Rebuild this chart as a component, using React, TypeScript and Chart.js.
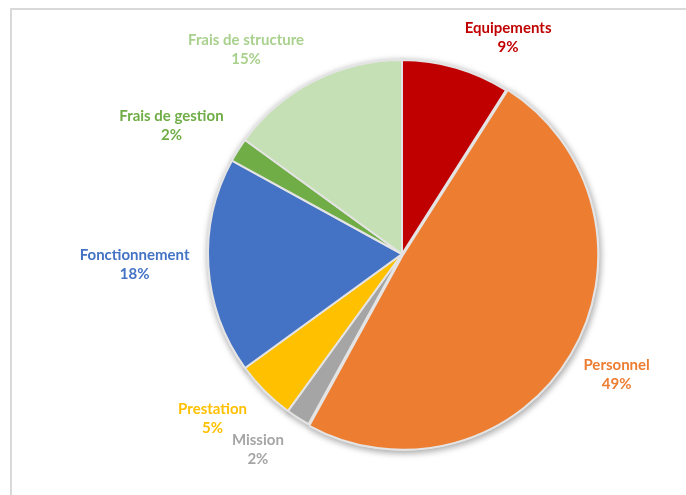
import React, { useEffect, useRef } from "react";
import { Chart, registerables } from "chart.js";

Chart.register(...registerables);

const categories = [
  "Equipements",
  "Personnel",
  "Mission",
  "Prestation",
  "Fonctionnement",
  "Frais de gestion",
  "Frais de structure",
];
const values = [9, 49, 2, 5, 18, 2, 15];
const sliceColors = ["#C00000", "#ED7D31", "#A5A5A5", "#FFC000", "#4472C4", "#70AD47", "#C5E0B4"];
const labelColors = ["#C00000", "#ED7D31", "#A5A5A5", "#FFC000", "#4472C4", "#70AD47", "#A9D18E"];
const explode = [0, 5, 0, 0, 0, 0, 0];
// Excel "best fit" nudges of the outside labels (px)
const labelNudge: [number, number][] = [
  [34, 8],
  [1, 2],
  [-15, -2],
  [-13, -1],
  [2, -4],
  [-5, -3],
  [-32, 4],
];

const FONT = "bold 15px Lato";
const LINE_H = 19;

const shadowPlugin = {
  id: "pieShadow",
  beforeDatasetsDraw(chart: any) {
    const ctx = chart.ctx;
    const meta = chart.getDatasetMeta(0);
    ctx.save();
    ctx.shadowColor = "rgba(0,0,0,0.35)";
    ctx.shadowBlur = 7;
    ctx.shadowOffsetX = 1;
    ctx.shadowOffsetY = 2;
    meta.data.forEach((el: any) => el.draw(ctx));
    ctx.restore();
  },
};

const labelPlugin = {
  id: "outsideLabels",
  afterDatasetsDraw(chart: any) {
    const ctx = chart.ctx;
    const meta = chart.getDatasetMeta(0);
    const total = values.reduce((a, b) => a + b, 0);
    ctx.save();
    ctx.font = FONT;
    ctx.textAlign = "center";
    ctx.textBaseline = "middle";
    meta.data.forEach((el: any, i: number) => {
      const { x, y, startAngle, endAngle, outerRadius } = el.getProps(
        ["x", "y", "startAngle", "endAngle", "outerRadius"],
        true
      );
      const mid = (startAngle + endAngle) / 2;
      const ux = Math.cos(mid);
      const uy = Math.sin(mid);
      const l1 = categories[i];
      const l2 = Math.round((values[i] / total) * 100) + "%";
      const w = Math.max(ctx.measureText(l1).width, ctx.measureText(l2).width);
      const h = LINE_H * 2;
      const r = outerRadius + 21;
      const cx = x + r * ux + (ux * w) / 2 + labelNudge[i][0];
      const cy = y + r * uy + (uy * h) / 2 + labelNudge[i][1];
      ctx.fillStyle = labelColors[i];
      ctx.fillText(l1, cx, cy - LINE_H / 2);
      ctx.fillText(l2, cx, cy + LINE_H / 2);
    });
    ctx.restore();
  },
};

export default function App() {
  const ref = useRef<HTMLCanvasElement>(null);

  useEffect(() => {
    document.body.style.margin = "0";
    document.body.style.overflow = "hidden";
    const chart = new Chart(ref.current!, {
      type: "pie",
      data: {
        labels: categories,
        datasets: [
          {
            data: values,
            backgroundColor: sliceColors,
            borderColor: "#e4e4e4",
            borderWidth: 2,
            offset: explode,
            radius: 194,
          } as any,
        ],
      },
      options: {
        animation: false,
        responsive: true,
        maintainAspectRatio: false,
        layout: { padding: { left: 118, right: 0, top: 13, bottom: 0 } },
        plugins: {
          legend: { display: false },
          tooltip: { enabled: false },
        },
      },
      plugins: [shadowPlugin, labelPlugin],
    });
    return () => chart.destroy();
  }, []);

  return (
    <div style={{ position: "absolute", left: 0, top: 0, width: 686, height: 495, background: "#fff" }}>
      <div
        style={{
          position: "absolute",
          left: 10,
          top: 8,
          width: 676,
          height: 487,
          borderLeft: "2px solid #d9d9d9",
          borderTop: "2px solid #d9d9d9",
          boxSizing: "border-box",
        }}
      />
      <div style={{ position: "absolute", left: 0, top: 0, width: 686, height: 495 }}>
        <canvas ref={ref} />
      </div>
    </div>
  );
}
